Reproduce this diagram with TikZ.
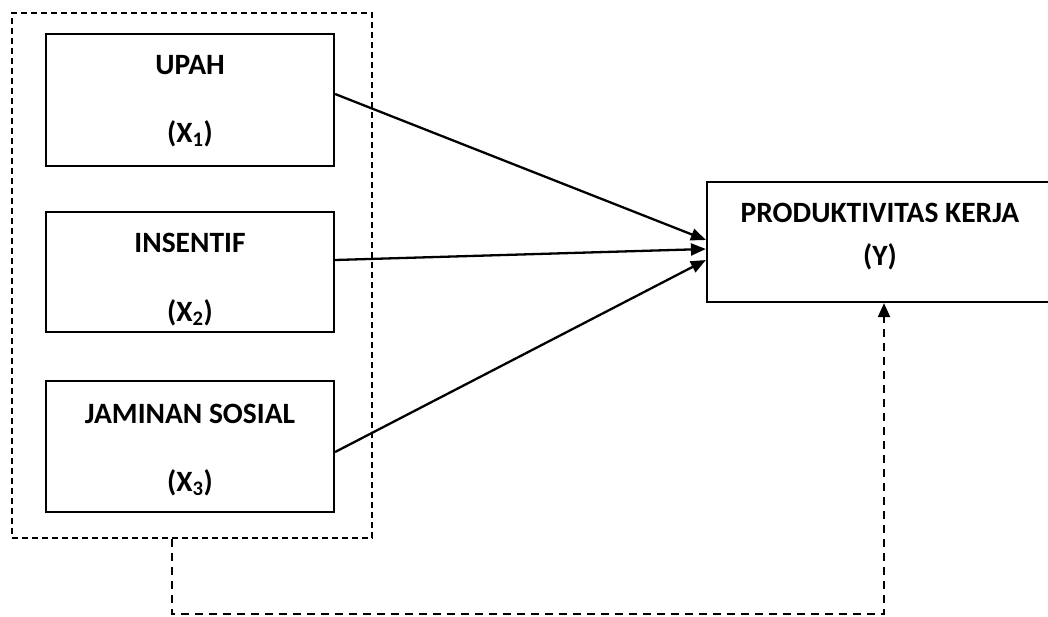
\documentclass[tikz,border=0pt]{standalone}
\usepackage{fontspec}
\setmainfont{Carlito}
\usetikzlibrary{arrows.meta}
\begin{document}
\begin{tikzpicture}[x=1pt,y=-1pt,
  box/.style={draw, line width=2.2pt, rectangle, inner sep=0pt},
  lbl/.style={font=\fontsize{29.5}{34}\selectfont\bfseries, inner sep=0pt, anchor=base},
  dashbox/.style={draw, line width=1.9pt, dash pattern=on 6pt off 4pt},
  conn/.style={line width=2.3pt, -{Triangle[length=15pt,width=12pt]}},
  fb/.style={line width=2pt, dash pattern=on 8pt off 6pt, -{Triangle[length=14pt,width=12pt]}}]
\useasboundingbox (0,0) rectangle (1048,616);
\fill[white] (0,0) rectangle (1048,616);
% outer dashed group
\node[dashbox, minimum width=360pt, minimum height=525pt, inner sep=0pt] (grp) at (192,275.5) {};
% boxes
\node[box, minimum width=288pt, minimum height=132pt] (b1) at (190,100) {};
\node[box, minimum width=288pt, minimum height=120pt] (b2) at (190,272) {};
\node[box, minimum width=288pt, minimum height=131pt] (b3) at (190,446.5) {};
\node[box, minimum width=346pt, minimum height=120pt] (yb) at (880,242) {};
% texts
\node[lbl] (t1a) at (190,74) {UPAH};
\node[lbl] (t1b) at (190,142) {(X\textsubscript{1})};
\node[lbl] (t2a) at (190,252) {INSENTIF};
\node[lbl] (t2b) at (190,321) {(X\textsubscript{2})};
\node[lbl] (t3a) at (190,423) {JAMINAN SOSIAL};
\node[lbl] (t3b) at (190,491) {(X\textsubscript{3})};
\node[lbl] (tya) at (880,222) {PRODUKTIVITAS KERJA};
\node[lbl] (tyb) at (880,265) {(Y)};
% connectors
\draw[conn] ([yshift=6pt]b1.east) -- ([yshift=2pt]yb.west);
\draw[conn] ([yshift=12pt]b2.east) -- ([yshift=-7pt]yb.west);
\draw[conn] ([yshift=-5.5pt]b3.east) -- ([yshift=-18pt]yb.west);
\draw[fb] ([xshift=-20pt]grp.south) |- (884,614) coordinate (fbc) -- ([xshift=4pt]yb.south);
\end{tikzpicture}
\end{document}
